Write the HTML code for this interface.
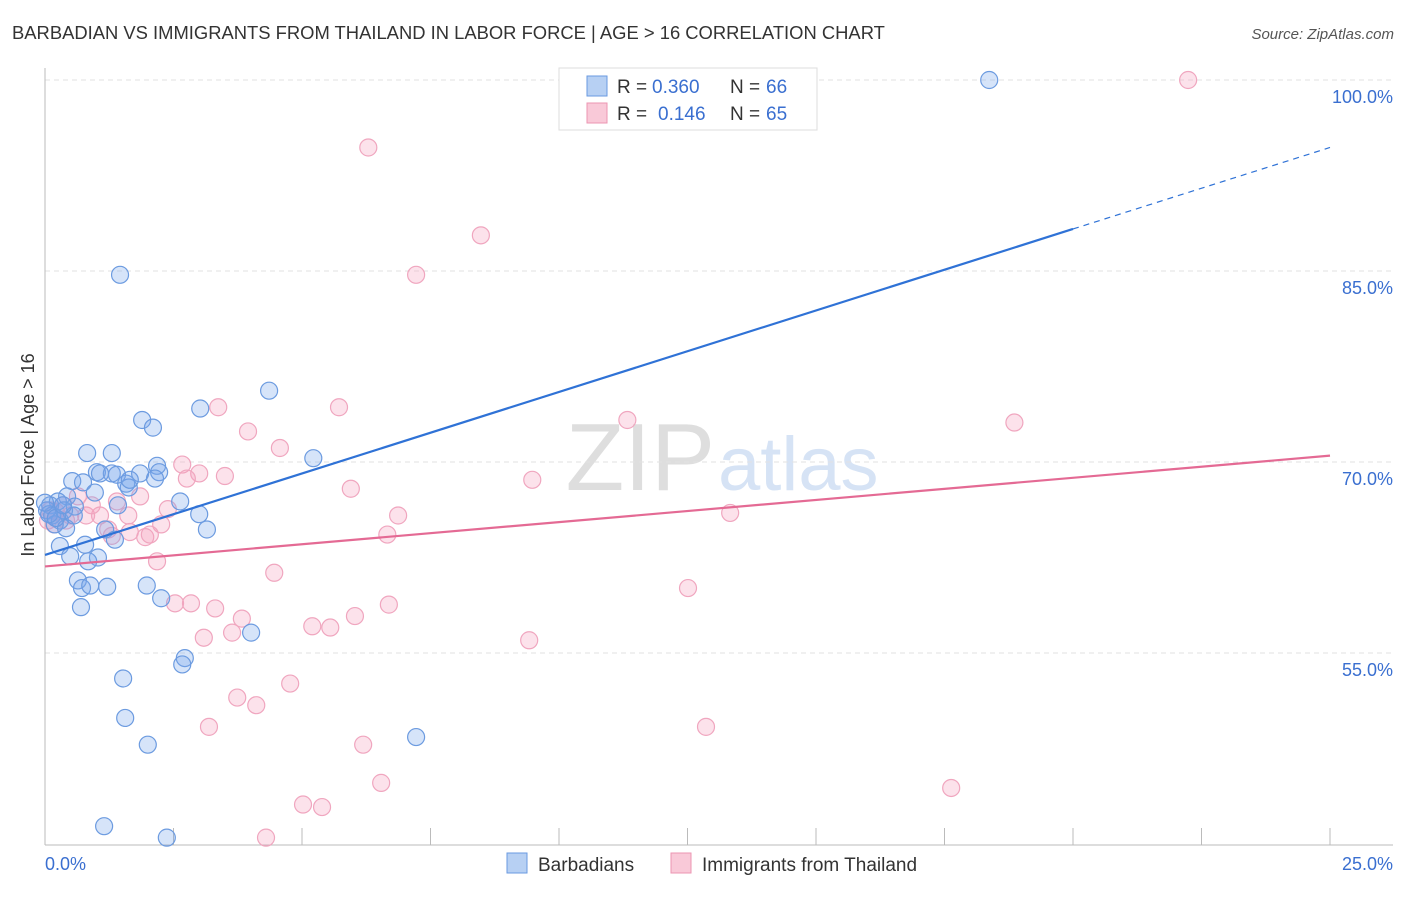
<!DOCTYPE html>
<html><head><meta charset="utf-8"><style>
body{margin:0;background:#fff;font-family:"Liberation Sans",sans-serif;}
svg text{font-family:"Liberation Sans",sans-serif;}
</style></head><body>
<svg id="chart" width="1406" height="892" xmlns="http://www.w3.org/2000/svg">
<text x="12" y="39" font-size="18.4" fill="#333">BARBADIAN VS IMMIGRANTS FROM THAILAND IN LABOR FORCE | AGE &gt; 16 CORRELATION CHART</text>
<text x="1394" y="39" font-size="15" fill="#555" font-style="italic" text-anchor="end">Source: ZipAtlas.com</text>
<text x="715" y="490" font-size="96" fill="#dedede" text-anchor="end" font-family="Liberation Serif">ZIP</text>
<text x="718" y="490" font-size="76" fill="#d6e3f5">atlas</text>
<g id="grid"></g><g id="axes"></g><g id="pts"></g><g id="lines"></g>
<text transform="translate(34,455) rotate(-90)" font-size="18" fill="#333" text-anchor="middle">In Labor Force | Age &gt; 16</text>
<g>
<rect x="559" y="68" width="258" height="62" fill="#fff" stroke="#ddd"/>
<rect x="587" y="76" width="20" height="20" fill="#b7d0f3" stroke="#6a9ae0"/>
<rect x="587" y="103" width="20" height="20" fill="#f9c9d8" stroke="#ec95b2"/>
<text x="617" y="93" font-size="19" fill="#333">R =</text>
<text x="652" y="93" font-size="19" fill="#3a6fd0">0.360</text>
<text x="730" y="93" font-size="19" fill="#333">N =</text>
<text x="766" y="93" font-size="19" fill="#3a6fd0">66</text>
<text x="617" y="120" font-size="19" fill="#333">R =</text>
<text x="658" y="120" font-size="19" fill="#3a6fd0">0.146</text>
<text x="730" y="120" font-size="19" fill="#333">N =</text>
<text x="766" y="120" font-size="19" fill="#3a6fd0">65</text>
</g>
<g>
<rect x="507" y="853" width="20" height="20" fill="#b7d0f3" stroke="#6a9ae0"/>
<text x="538" y="871" font-size="19" fill="#333">Barbadians</text>
<rect x="671" y="853" width="20" height="20" fill="#f9c9d8" stroke="#ec95b2"/>
<text x="702" y="871" font-size="19" fill="#333">Immigrants from Thailand</text>
</g>
</svg>
<script>
const blueX=[18.37,1.46,4.36,1.89,2.10,3.02,5.22,0.82,1.30,1.01,1.30,1.58,1.85,2.18,2.22,2.14,1.63,1.40,0.53,0.74,1.07,0.43,0.25,0.10,0.58,0.04,0.14,0.29,0.19,0.41,1.42,2.63,3.00,3.15,1.17,1.36,0.29,0.49,0.78,1.03,0.64,0.72,0.88,1.21,1.98,2.26,0.70,4.01,2.72,2.67,1.52,1.56,2.00,7.22,1.15,2.37,1.65,0.08,0.37,0.21,0.56,0.97,0.35,0.0,0.84];
const blueY=[100,84.7,75.6,73.3,72.7,74.2,70.3,70.7,70.7,69.2,69.1,68.3,69.1,69.7,69.2,68.7,68.0,69.0,68.5,68.4,69.1,67.3,66.9,66.6,66.5,66.2,65.8,65.4,65.1,64.8,66.6,66.9,65.9,64.7,64.7,63.9,63.4,62.6,63.5,62.5,60.7,60.1,60.3,60.2,60.3,59.3,58.6,56.6,54.6,54.1,53.0,49.9,47.8,48.4,41.4,40.5,68.6,65.9,66.2,65.6,65.8,67.6,66.6,66.8,62.2];
const pinkX=[22.24,6.29,8.48,7.22,3.37,5.72,11.33,18.86,3.95,4.57,2.67,3.00,2.76,3.50,9.48,5.95,0.64,0.35,1.40,1.85,0.10,0.80,1.07,1.62,2.39,6.87,2.26,0.18,1.23,1.65,1.95,2.04,6.66,13.33,2.18,4.46,12.51,2.53,2.84,3.31,3.83,6.03,6.69,5.20,5.55,3.64,3.09,9.42,4.77,3.74,4.11,3.19,12.86,6.19,6.54,5.02,5.39,17.63,4.30,0.21,0.49,0.91,1.30,0.41,0.06];
const pinkY=[100,94.7,87.8,84.7,74.3,74.3,73.3,73.1,72.4,71.1,69.8,69.1,68.7,68.9,68.6,67.9,67.3,66.6,66.9,67.3,66.2,65.8,65.8,65.8,66.3,65.8,65.1,65.1,64.7,64.5,64.1,64.3,64.3,66.0,62.2,61.3,60.1,58.9,58.9,58.5,57.7,57.9,58.8,57.1,57.0,56.6,56.2,56.0,52.6,51.5,50.9,49.2,49.2,47.8,44.8,43.1,42.9,44.4,40.5,66.1,65.8,66.6,64.2,65.4,65.4];
const blueTrend=[62.7,94.7]; // y at x=0 and x=25
const pinkTrend=[61.8,70.5];
const blueSolidEnd=20.0;
const yTicks=[100,85,70,55];
const yTickLabels=["100.0%","85.0%","70.0%","55.0%"];
const xEndLabels=["0.0%","25.0%"];

const X0=45,X1=1330,YTOP=80;
const sx=v=>X0+(v/25)*(X1-X0);
const sy=v=>YTOP+(100-v)/15*191;
const NS="http://www.w3.org/2000/svg";
function mk(tag,attrs,parent,text){const e=document.createElementNS(NS,tag);for(const k in attrs)e.setAttribute(k,attrs[k]);if(text!=null)e.textContent=text;document.getElementById(parent).appendChild(e);return e;}

yTicks.forEach((t,i)=>{
  const g=mk('line',{x1:X0,x2:1393,y1:sy(t),y2:sy(t),stroke:'#e2e2e2','stroke-dasharray':'5,4'},'grid');
  
  
  const l=mk('text',{x:1393,y:sy(t)+23,'font-size':18,fill:'#3a6fd0','text-anchor':'end'},'grid',yTickLabels[i]);
  
  
});
const ax=mk('line',{x1:X0,x2:X0,y1:68,y2:845,stroke:'#bbb'},'axes');


const bx=mk('line',{x1:X0,x2:1393,y1:845,y2:845,stroke:'#bbb'},'axes');


for(let i=0;i<=10;i++){
  const t=mk('line',{x1:sx(i*2.5),x2:sx(i*2.5),y1:828,y2:845,stroke:'#bbb'},'axes');
  
  
}
const xl0=mk('text',{x:45,y:870,'font-size':18,fill:'#3a6fd0'},'axes',xEndLabels[0]);


const xl1=mk('text',{x:1393,y:870,'font-size':18,fill:'#3a6fd0','text-anchor':'end'},'axes',xEndLabels[1]);



pinkX.forEach((x,i)=>{
  const c=mk('circle',{cx:sx(x),cy:sy(pinkY[i]),r:8.5,fill:'rgba(244,160,190,0.3)',stroke:'#f0a6bf','stroke-width':1.2},'pts');
  
  
});
blueX.forEach((x,i)=>{
  const c=mk('circle',{cx:sx(x),cy:sy(blueY[i]),r:8.5,fill:'rgba(120,165,235,0.3)',stroke:'#6c9be0','stroke-width':1.2},'pts');
  
  
});
const by=x=>blueTrend[0]+(blueTrend[1]-blueTrend[0])*x/25;
const bl=mk('line',{x1:sx(0),y1:sy(by(0)),x2:sx(blueSolidEnd),y2:sy(by(blueSolidEnd)),stroke:'#2f72d6','stroke-width':2.2},'lines');


const bd=mk('line',{x1:sx(blueSolidEnd),y1:sy(by(blueSolidEnd)),x2:sx(25),y2:sy(by(25)),stroke:'#2f72d6','stroke-width':1.2,'stroke-dasharray':'6,5'},'lines');


const pl=mk('line',{x1:sx(0),y1:sy(pinkTrend[0]),x2:sx(25),y2:sy(pinkTrend[1]),stroke:'#e46a94','stroke-width':2.2},'lines');


</script>
</body></html>
